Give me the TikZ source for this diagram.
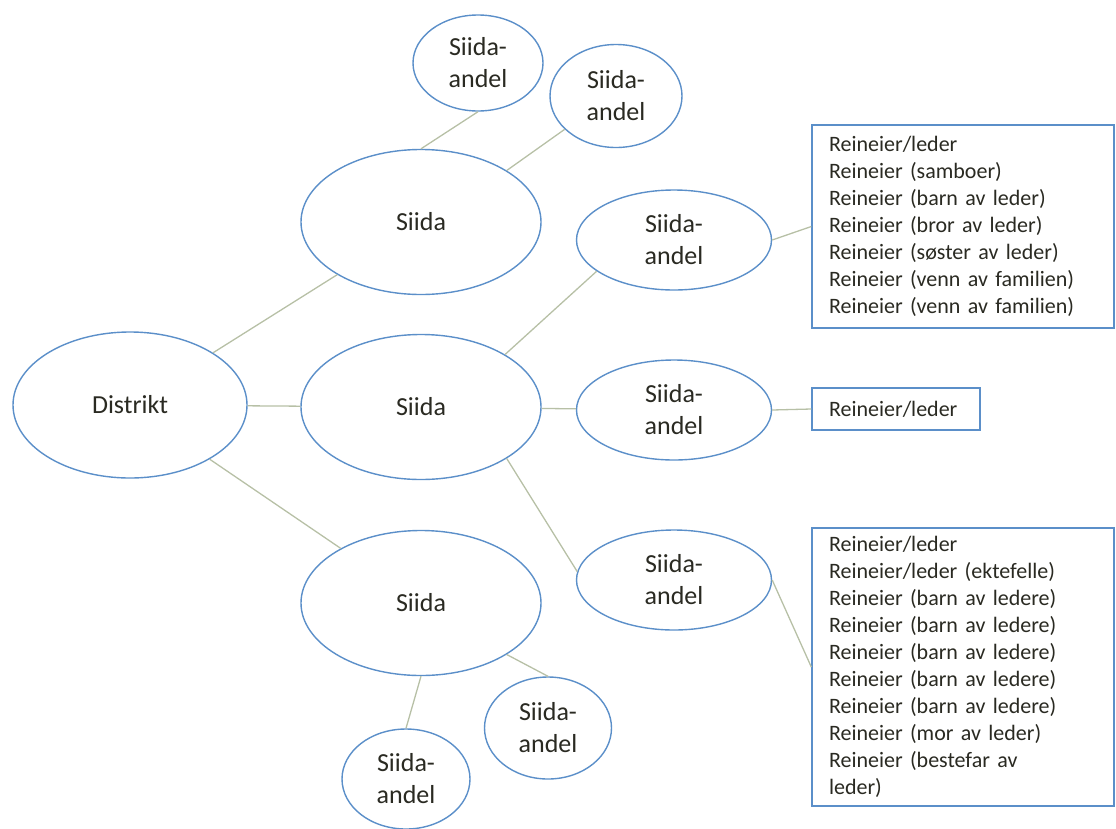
\documentclass[tikz,border=0pt]{standalone}
\usepackage{fontspec}
\setmainfont{Carlito}
\usepackage{xcolor}
\usepackage{tikz}
\usetikzlibrary{shapes.geometric, positioning}
\definecolor{ellblue}{HTML}{5B8FC9}
\definecolor{linegreen}{HTML}{B7C0A6}
\definecolor{inkdark}{HTML}{2A2A22}
\tikzstyle{member} = [rectangle, draw=ellblue, line width=1.4pt, fill=white, align=left, text width=268pt, inner xsep=17pt, inner ysep=0pt, font=\fontsize{22}{27}\selectfont, text=inkdark]
\tikzstyle{link} = [draw=linegreen, line width=1.3pt, -]

\begin{document}
\begin{tikzpicture}[
    x=1pt, y=-1pt,
    unit/.style={ellipse, draw=ellblue, line width=1.4pt, fill=white, inner sep=0pt, align=center, font=\fontsize{26}{32}\selectfont, text=inkdark},
    siida/.style={unit, minimum width=240pt, minimum height=145pt},
    andel/.style={unit, minimum width=195pt, minimum height=100pt}
]
\useasboundingbox (0,0) rectangle (1116,828);

% Nodes
\node (distrikt) [unit, minimum width=234pt, minimum height=146pt] at (130,405) {Distrikt};
\node (siidaA) [siida] at (421,222) {Siida};
\node (siidaB) [siida] at (421,407) {Siida};
\node (siidaC) [siida] at (421,603) {Siida};

\node (andelA1) [unit, minimum width=130pt, minimum height=96pt] at (478,63) {Siida-\\andel};
\node (andelA2) [unit, minimum width=132pt, minimum height=103pt] at (616,96) {Siida-\\andel};
\node (andelB1) [andel] at (674,240) {Siida-\\andel};
\node (andelB2) [andel] at (674,410) {Siida-\\andel};
\node (andelB3) [andel] at (674,580) {Siida-\\andel};
\node (andelC1) [unit, minimum width=127pt, minimum height=102pt] at (548,728) {Siida-\\andel};
\node (andelC2) [unit, minimum width=128pt, minimum height=100pt] at (406,779) {Siida-\\andel};

\node (boxB1) [member, minimum height=203pt] at (963,226.5) {Reineier/leder\\
Reineier (samboer)\\
Reineier (barn av leder)\\
Reineier (bror av leder)\\
Reineier (søster av leder)\\
Reineier (venn av familien)\\
Reineier (venn av familien)};
\node (boxB2) [member, text width=134pt, minimum height=42pt] at (896,409) {Reineier/leder};
\node (boxB3) [member, minimum height=278pt] at (963,667) {Reineier/leder\\
Reineier/leder (ektefelle)\\
Reineier (barn av ledere)\\
Reineier (barn av ledere)\\
Reineier (barn av ledere)\\
Reineier (barn av ledere)\\
Reineier (barn av ledere)\\
Reineier (mor av leder)\\
Reineier (bestefar av\\
leder)};

% Edges
\draw [link] (distrikt) -- (siidaA);
\draw [link] (distrikt) -- (siidaB);
\draw [link] (distrikt) -- (siidaC);
\draw [link] (siidaA.north) -- (andelA1.south);
\draw [link] (siidaA.31) -- (andelA2.213);
\draw [link] (siidaB.32) -- (andelB1.202);
\draw [link] (siidaB) -- (andelB2);
\draw [link] (siidaB.-31) -- (andelB3.175);
\draw [link] (siidaC.-31) -- (andelC1.north);
\draw [link] (siidaC.south) -- (andelC2.north);
\draw [link] (andelB1.east) -- (boxB1.west);
\draw [link] (andelB2.east) -- (boxB2.west);
\draw [link] (andelB3.east) -- (boxB3.west);

\end{tikzpicture}
\end{document}
